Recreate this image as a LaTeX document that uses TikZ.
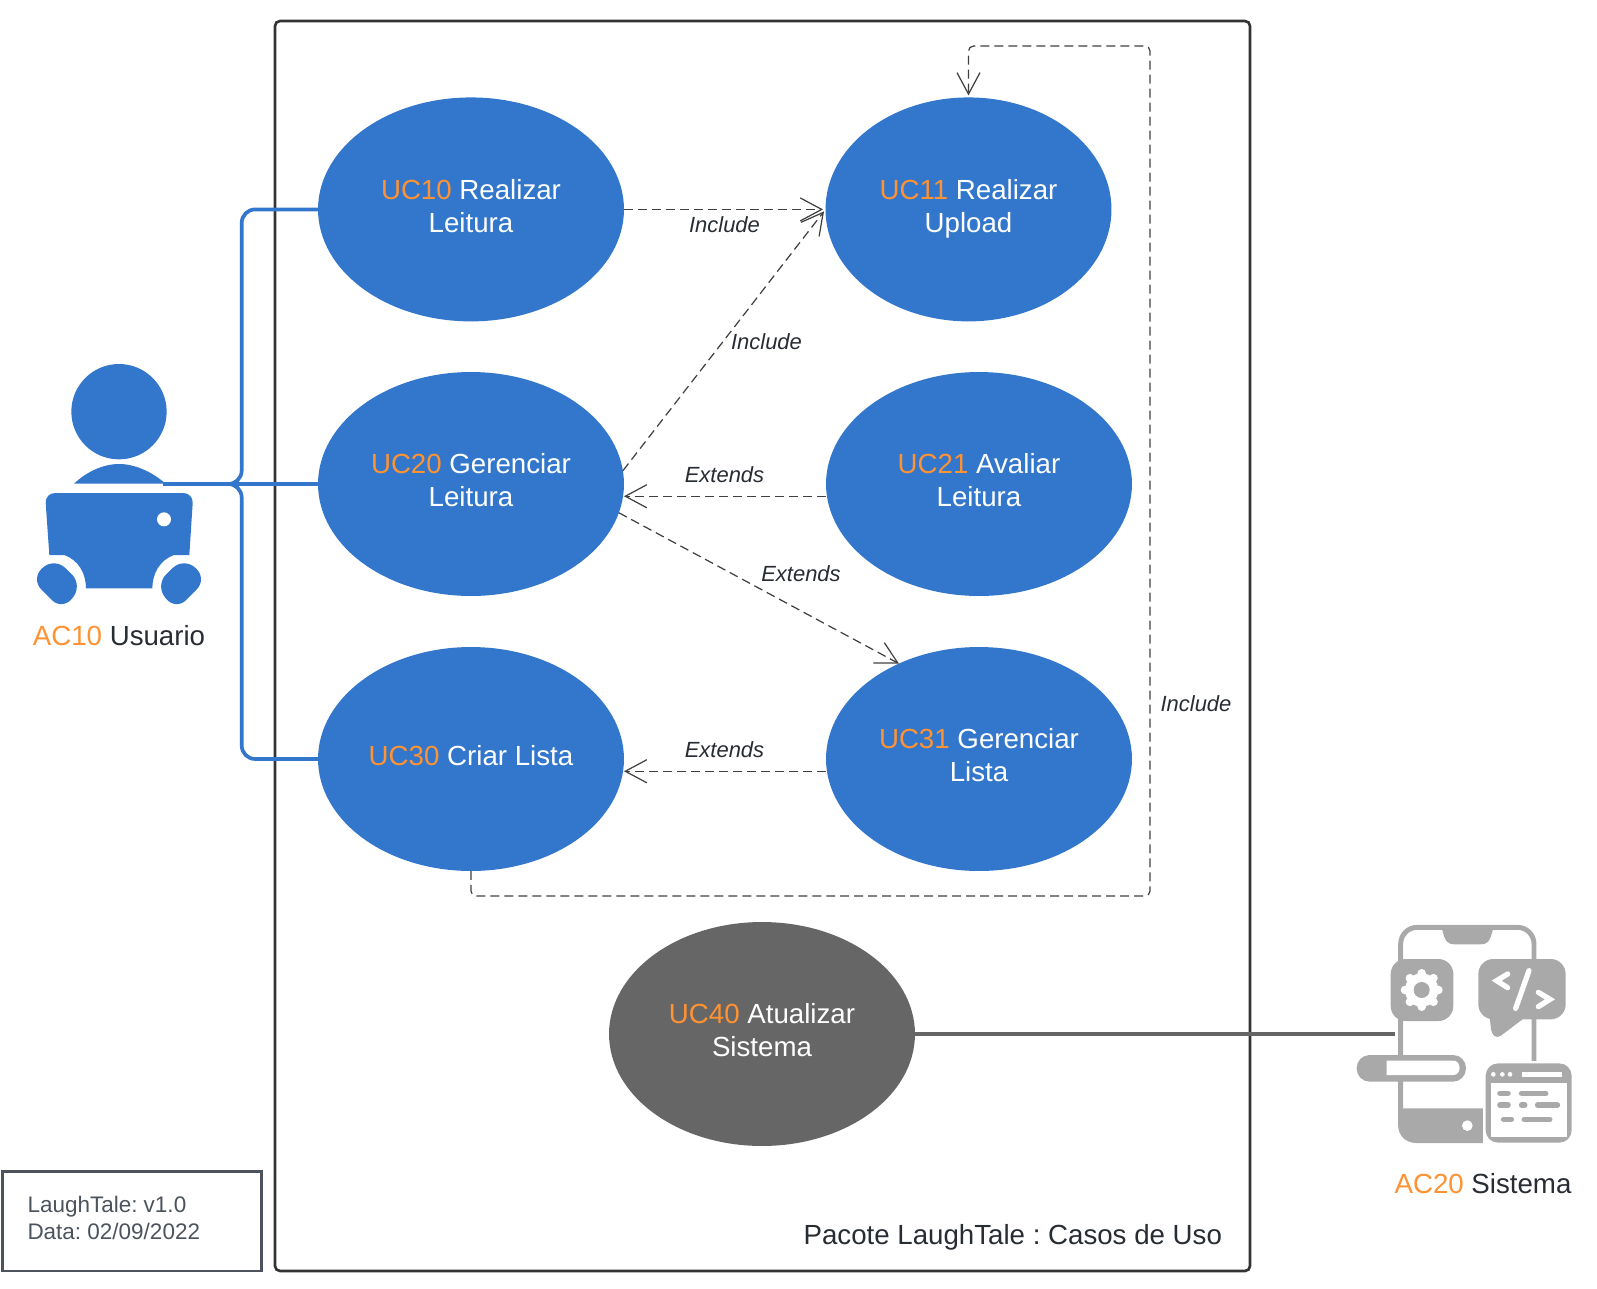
\documentclass[tikz,border=0pt]{standalone}
\usepackage{fontspec}
\setmainfont{Liberation Sans}
\usetikzlibrary{arrows.meta,shapes.geometric}
\definecolor{ucblue}{HTML}{3277CB}
\definecolor{ucgray}{HTML}{666666}
\definecolor{ucorange}{HTML}{FF9233}
\definecolor{icongray}{HTML}{A9A9A9}
\definecolor{inkdark}{HTML}{282C33}
\definecolor{inkbox}{HTML}{4C535D}
\frenchspacing

\begin{document}
\begin{tikzpicture}[
        x=0.02cm, y=-0.02cm,
        every node/.style={font=\fontsize{15.75}{18.8}\selectfont, text=inkdark, inner sep=0pt, outer sep=0pt},
        usecase/.style={ellipse, fill=ucblue, minimum width=6.12cm, minimum height=4.48cm, align=center, text=white,
                execute at end node={\rule[-0.28em]{0pt}{1em}}},
        lbl/.style={font=\fontsize{12.5}{15}\selectfont\itshape},
        dep/.style={draw=black!75, line width=0.7pt, dash pattern=on 0.18cm off 0.1cm,
                -{Straight Barb[length=0.43cm,width=0.46cm]}},
        assoc/.style={draw=ucblue, line width=2.1pt, rounded corners=0.27cm}
    ]
    \useasboundingbox (0,0) rectangle (1597,1289);

    % ============ pacote ============
    \draw[black!80, line width=1.5pt, rounded corners=0.1cm] (275,21) rectangle (1250,1271);
    \node[anchor=east] (pacote) at (1222,1237) {Pacote LaughTale : Casos de Uso};

    \draw[inkbox, line width=1.5pt] (2.5,1171.5) rectangle (261.5,1271);
    \node[anchor=west, align=left, text=inkbox, font=\fontsize{12.8}{15.6}\selectfont] (versao) at (27.5,1218)
    {LaughTale: v1.0\\Data: 02/09/2022};

    % ============ casos de uso ============
    \node[usecase] (uc10) at (471,209.4) {\textcolor{ucorange}{UC10} Realizar\\Leitura};
    \node[usecase, minimum width=5.72cm] (uc11) at (968.5,209.4) {\textcolor{ucorange}{UC11} Realizar\\Upload};
    \node[usecase] (uc20) at (471,484) {\textcolor{ucorange}{UC20} Gerenciar\\Leitura};
    \node[usecase] (uc21) at (979,484) {\textcolor{ucorange}{UC21} Avaliar\\Leitura};
    \node[usecase] (uc30) at (471,759) {\textcolor{ucorange}{UC30} Criar Lista};
    \node[usecase] (uc31) at (979,759) {\textcolor{ucorange}{UC31} Gerenciar\\Lista};
    \node[usecase, fill=ucgray] (uc40) at (762,1034) {\textcolor{ucorange}{UC40} Atualizar\\Sistema};

    % ============ dependencias ============
    \draw[dep, shorten >=0.05cm] (uc10.east) -- (uc11.west);
    \draw[dep, shorten >=0.05cm] (uc20.5) -- (uc11.west);
    \draw[dep] ([yshift=-0.245cm]uc21.west) -- ([yshift=-0.245cm]uc20.east);
    \draw[dep] (uc20.-11) -- (uc31.130);
    \draw[dep] ([yshift=-0.245cm]uc31.west) -- ([yshift=-0.245cm]uc30.east);
    \coordinate (voltaa) at (1150,896);
    \coordinate (voltab) at (1150,46);
    \draw[dep, rounded corners=0.1cm, shorten >=0.04cm] (uc30.south) |- (voltaa) -- (voltab) -| (uc11.north);

    \node[lbl] (inc1) at (724.5,225) {Include};
    \node[lbl] (inc2) at (766.5,342) {Include};
    \node[lbl] (ext1) at (724.5,475) {Extends};
    \node[lbl] (ext2) at (801,574) {Extends};
    \node[lbl] (ext3) at (724.5,750) {Extends};
    \node[lbl] (inc3) at (1196,704) {Include};

    % ============ ator usuario ============
    \begin{scope}[shift={(0,340)}, scale=1/3]
        \fill[ucblue] (357,215) circle (143);
        \fill[ucblue] (222,431) .. controls (260,395) and (310,372) .. (357,372)
        .. controls (405,372) and (455,395) .. (497,431) -- cycle;
        \fill[ucblue] (357,459) [rounded corners=0.2cm] -- (580,459) [sharp corners] -- (568,645) -- (522,645)
        .. controls (480,660) and (457,700) .. (457,745) -- (258,745)
        .. controls (258,700) and (235,660) .. (193,645) -- (148,645) [rounded corners=0.2cm] -- (135,459) -- cycle;
        \fill[white] (492,538) circle (21);
        \fill[ucblue, rounded corners=0.3cm] (163,652) -- (248,735) -- (187,812) -- (92,716) -- cycle;
        \fill[ucblue, rounded corners=0.3cm] (551,652) -- (466,735) -- (527,812) -- (622,716) -- cycle;
    \end{scope}
    \node (ac10) at (119,636) {\textcolor{ucorange}{AC10} Usuario};

    \coordinate (barra) at (241.7,484);
    \coordinate (ator) at (163,484);
    \draw[assoc] (ator) -- (barra) |- (uc10.west);
    \draw[assoc] (ator) -- (uc20.west);
    \draw[assoc] (ator) -- (barra) |- (uc30.west);

    % ============ ator sistema ============
    \begin{scope}[shift={(1340,910)}, scale=1/3]
        % corpo do celular
        \draw[icongray, line width=2.8pt, rounded corners=0.33cm] (182,52) rectangle (582,692);
        \fill[icongray] (305,52) .. controls (315,100) and (325,103) .. (345,103) -- (420,103)
        .. controls (440,103) and (450,100) .. (460,52) -- cycle;
        \fill[icongray] (175,595) -- (440,595) -- (440,698) [rounded corners=0.33cm] -- (175,698) [sharp corners] -- (175,595) -- cycle;
        \fill[white] (382,647) circle (16);

        % engrenagem
        \fill[icongray, rounded corners=0.3cm] (152,147) rectangle (340,333);
        \fill[white] (245,240) circle (50);
        \foreach \a in {0,45,...,315}
        \fill[white] (245,240) ++(\a:50) circle (13);
        \fill[icongray] (245,240) circle (24);

        % balao de codigo
        \fill[icongray, rounded corners=0.3cm] (415,147) rectangle (677,328);
        \fill[icongray, rounded corners=0.08cm] (448,315) -- (565,315) -- (472,385) -- (455,372) -- cycle;
        \draw[white, line width=3pt, line cap=round] (503,192) -- (470,212) -- (503,233);
        \draw[white, line width=3pt, line cap=round] (567,182) -- (527,295);
        \draw[white, line width=3pt, line cap=round] (595,247) -- (630,268) -- (595,290);

        % barra lateral
        \fill[icongray, rounded corners=0.26cm] (50,435) rectangle (378,515);
        \fill[white] (140,452) -- (340,452) .. controls (365,452) and (365,495) .. (340,495) -- (140,495) -- cycle;

        % janela
        \fill[white] (430,452) rectangle (700,705);
        \fill[icongray, rounded corners=0.25cm] (437,460) rectangle (695,698);
        \fill[white] (452,520) rectangle (680,680);
        \foreach \x in {460,487,510}
        \fill[white] (\x,493) circle (7);
        \fill[white] (545,487) rectangle (665,500);
        \foreach \xa/\xb/\y in {472/512/550, 537/625/550, 472/512/585, 537/562/585, 585/660/585, 483/522/628, 545/637/628}
        \draw[icongray, line width=3.2pt, line cap=round] (\xa+8,\y) -- (\xb-8,\y);
    \end{scope}
    \node (ac20) at (1483,1184) {\textcolor{ucorange}{AC20} Sistema};

    \coordinate (celular) at (1395,1034);
    \draw[ucgray, line width=2.1pt] (uc40.east) -- (celular);
\end{tikzpicture}
\end{document}
